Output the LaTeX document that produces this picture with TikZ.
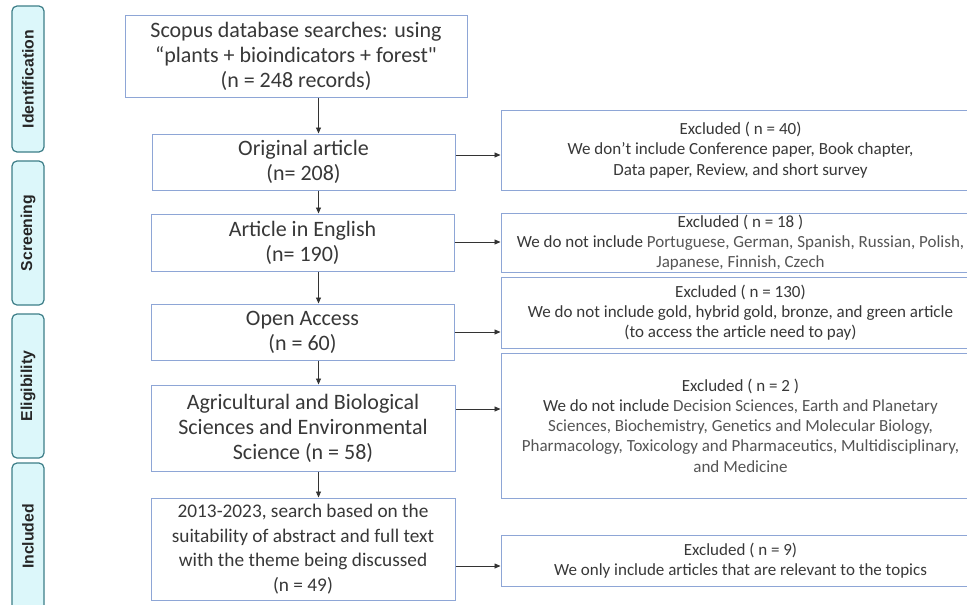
\documentclass[tikz,border=0pt]{standalone}
\usepackage{fontspec}
\setmainfont{Carlito}
\newfontfamily\plainfont{Carlito}
\newfontfamily\sidefont{Liberation Sans}
\usetikzlibrary{arrows.meta}
\definecolor{boxline}{HTML}{8EA6D6}
\definecolor{txt}{HTML}{383838}
\definecolor{txtlight}{HTML}{555555}
\definecolor{sidefill}{HTML}{DCF7FA}
\definecolor{sideline}{HTML}{3D7E88}
\definecolor{arr}{HTML}{333333}
\begin{document}
\begin{tikzpicture}[x=1pt,y=1pt,
  mainbox/.style={draw=boxline, line width=1pt, fill=white, align=center, text=txt, inner sep=0pt, font=\fontsize{22}{25}\selectfont},
  exbox/.style={draw=boxline, line width=1pt, fill=white, align=center, text=txt, inner sep=0pt, font=\fontsize{17}{20.3}\selectfont},
  sidebox/.style={draw=sideline, line width=1.2pt, fill=sidefill, rounded corners=5pt, inner sep=0pt, minimum height=32pt, font=\sidefont\bfseries\fontsize{15.8}{18}\selectfont, text=black!85},
  flow/.style={draw=arr, line width=0.8pt, -{Triangle[length=6pt,width=5pt]}}]
\useasboundingbox (0,0) rectangle (967,-605);
\fill[white] (0,0) rectangle (967,-605);
\clip (0,0) rectangle (967,-605);

% side stage labels
\node[sidebox, rotate=90, minimum width=146pt] (s1) at (28,-79) {Identification};
\node[sidebox, rotate=90, minimum width=144pt] (s2) at (28,-233) {Screening};
\node[sidebox, rotate=90, minimum width=144pt] (s3) at (28,-386) {Eligibility};
\node[sidebox, rotate=90, minimum width=147pt] (s4) at (28,-536.5) {Included};

% main flow boxes
\node[mainbox, minimum width=342pt, minimum height=82pt] (b1) at (296,-56)
  {Scopus database searches: using\\“plants + bioindicators + forest{\plainfont"}\\(n = 248 records)};
\node[mainbox, minimum width=303pt, minimum height=56pt] (b2) at (303.5,-162)
  {Original article\\(n= 208)};
\node[mainbox, minimum width=303pt, minimum height=57pt] (b3) at (302.5,-242.5)
  {Article in English\\(n= 190)};
\node[mainbox, minimum width=303pt, minimum height=56pt] (b4) at (302.5,-332)
  {Open Access\\(n = 60)};
\node[mainbox, minimum width=304pt, minimum height=86pt] (b5) at (303,-428)
  {Agricultural and Biological\\Sciences and Environmental\\Science (n = 58)};
\node[mainbox, minimum width=304pt, minimum height=102pt, font=\fontsize{19.3}{24.5}\selectfont] (b6) at (303,-549)
  {2013-2023, search based on the\\suitability of abstract and full text\\with the theme being discussed\\(n = 49)};

% exclusion boxes
\node[exbox, minimum width=479pt, minimum height=80pt] (r1) at (740.5,-150)
  {Excluded ( n = 40)\\We don’t include Conference paper, Book chapter,\\Data paper, Review, and short survey};
\node[exbox, minimum width=479pt, minimum height=59pt] (r2) at (740.5,-242.5)
  {Excluded ( n = 18 )\\We do not include {\color{txtlight}Portuguese, German, Spanish, Russian, Polish,}\\{\color{txtlight}Japanese, Finnish, Czech}};
\node[exbox, minimum width=479pt, minimum height=71pt] (r3) at (740.5,-312.5)
  {Excluded ( n = 130)\\We do not include gold, hybrid gold, bronze, and green article\\(to access the article need to pay)};
\node[exbox, minimum width=479pt, minimum height=145pt] (r4) at (740.5,-425.5)
  {Excluded ( n = 2 )\\We do not include {\color{txtlight}Decision Sciences, Earth and Planetary}\\{\color{txtlight}Sciences, Biochemistry, Genetics and Molecular Biology,}\\{\color{txtlight}Pharmacology, Toxicology and Pharmaceutics, Multidisciplinary,}\\{\color{txtlight}and Medicine}};
\node[exbox, minimum width=479pt, minimum height=51pt] (r5) at (740.5,-560.5)
  {Excluded ( n = 9)\\We only include articles that are relevant to the topics};

% connector guides
\coordinate (vx) at (318.5,0);
\coordinate (h1) at (0,-155);
\coordinate (h2) at (0,-242);
\coordinate (h3) at (0,-332);
\coordinate (h4) at (0,-409);
\coordinate (h5) at (0,-566);

% vertical arrows
\draw[flow] (b1.south -| vx) -- (b2.north -| vx);
\draw[flow] (b2.south -| vx) -- (b3.north -| vx);
\draw[flow] (b3.south -| vx) -- (b4.north -| vx);
\draw[flow] (b4.south -| vx) -- (b5.north -| vx);
\draw[flow] (b5.south -| vx) -- (b6.north -| vx);

% horizontal arrows
\draw[flow] (b2.east |- h1) -- (r1.west |- h1);
\draw[flow] (b3.east |- h2) -- (r2.west |- h2);
\draw[flow] (b4.east |- h3) -- (r3.west |- h3);
\draw[flow] (b5.east |- h4) -- (r4.west |- h4);
\draw[flow] (b6.east |- h5) -- (r5.west |- h5);
\end{tikzpicture}
\end{document}
